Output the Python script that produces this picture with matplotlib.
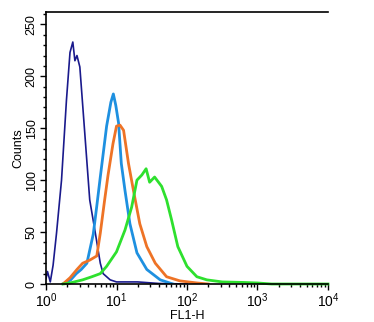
import matplotlib
matplotlib.use('Agg')
import matplotlib.pyplot as plt
from matplotlib.ticker import MultipleLocator, LogLocator

plt.rcParams['font.family'] = ['Liberation Sans', 'DejaVu Sans']
plt.rcParams['mathtext.default'] = 'regular'

navy_x = [1.00, 1.05, 1.15, 1.26, 1.41, 1.66, 1.95, 2.19, 2.40, 2.57, 2.75, 3.02,
          3.55, 4.17, 5.01, 5.89, 6.46, 8.13, 10, 20, 40, 100]
navy_y = [5, 12, 2, 18, 49, 100, 177, 223, 233, 215, 220, 209,
          145, 81, 49, 20, 10, 4, 2, 2, 0.5, 0]

blue_x = [1.74, 2.24, 2.69, 3.16, 3.80, 4.68, 5.25, 5.89, 7.24, 8.32, 9.02, 9.77,
          10.7, 11.7, 13.2, 15.5, 19.5, 26.9, 41.7, 63.1]
blue_y = [0, 4, 10, 14, 20, 48, 75, 103, 152, 175, 183, 172,
          155, 116, 90, 58, 30, 14, 4, 0]

orange_x = [1.74, 2.19, 2.75, 3.31, 4.17, 5.25, 5.89, 6.76, 7.59, 8.91, 10.0, 11.2,
            12.6, 14.8, 17.4, 21.4, 26.9, 35.5, 51.3, 79.4, 138, 200]
orange_y = [0, 6, 14, 20, 23, 27, 49, 80, 105, 135, 152, 153,
            148, 116, 90, 58, 36, 20, 7, 3, 1, 0]

green_x = [1.74, 2.19, 3.31, 4.47, 5.89, 7.24, 10.0, 13.2, 16.4, 19.5, 22.9, 26.3,
           29.5, 34.7, 43.7, 51.3, 60.3, 74.1, 100, 138, 191, 316, 631, 1000, 1585, 10000]
green_y = [0, 1, 4, 7, 10, 17, 31, 52, 74, 100, 105, 111,
           98, 103, 94, 81, 62, 36, 17, 7, 4, 2, 1.5, 1, 0, 0]

fig = plt.figure(figsize=(3.74, 3.22), dpi=100)
ax = fig.add_axes([0.123, 0.118, 0.754, 0.845])

ax.plot(navy_x, navy_y, color='#1a1a8c', lw=1.2)
ax.plot(blue_x, blue_y, color='#1e90e0', lw=2.0)
ax.plot(orange_x, orange_y, color='#ee7326', lw=2.0)
ax.plot(green_x, green_y, color='#2ee02e', lw=2.0, clip_on=False)

ax.set_xscale('log')
ax.set_xlim(1, 1e4)
ax.set_ylim(0, 262)

ax.spines['right'].set_visible(False)
for s in ax.spines.values():
    s.set_linewidth(1.2)

ax.yaxis.set_major_locator(MultipleLocator(50))
ax.yaxis.set_minor_locator(MultipleLocator(10))
ax.xaxis.set_major_locator(LogLocator(base=10))
ax.xaxis.set_minor_locator(LogLocator(base=10, subs=range(2, 10)))

ax.tick_params(which='major', length=4, width=1, labelsize=9, pad=2)
ax.tick_params(which='minor', length=2.5, width=1)
ax.tick_params(axis='x', labelsize=10, pad=1)
for lab in ax.get_yticklabels():
    lab.set_rotation(90)
    lab.set_va('center')

ax.set_xlabel('FL1-H', fontsize=9, labelpad=0)
ax.set_ylabel('Counts', fontsize=9, labelpad=1)

fig.savefig('out.png', dpi=100)
